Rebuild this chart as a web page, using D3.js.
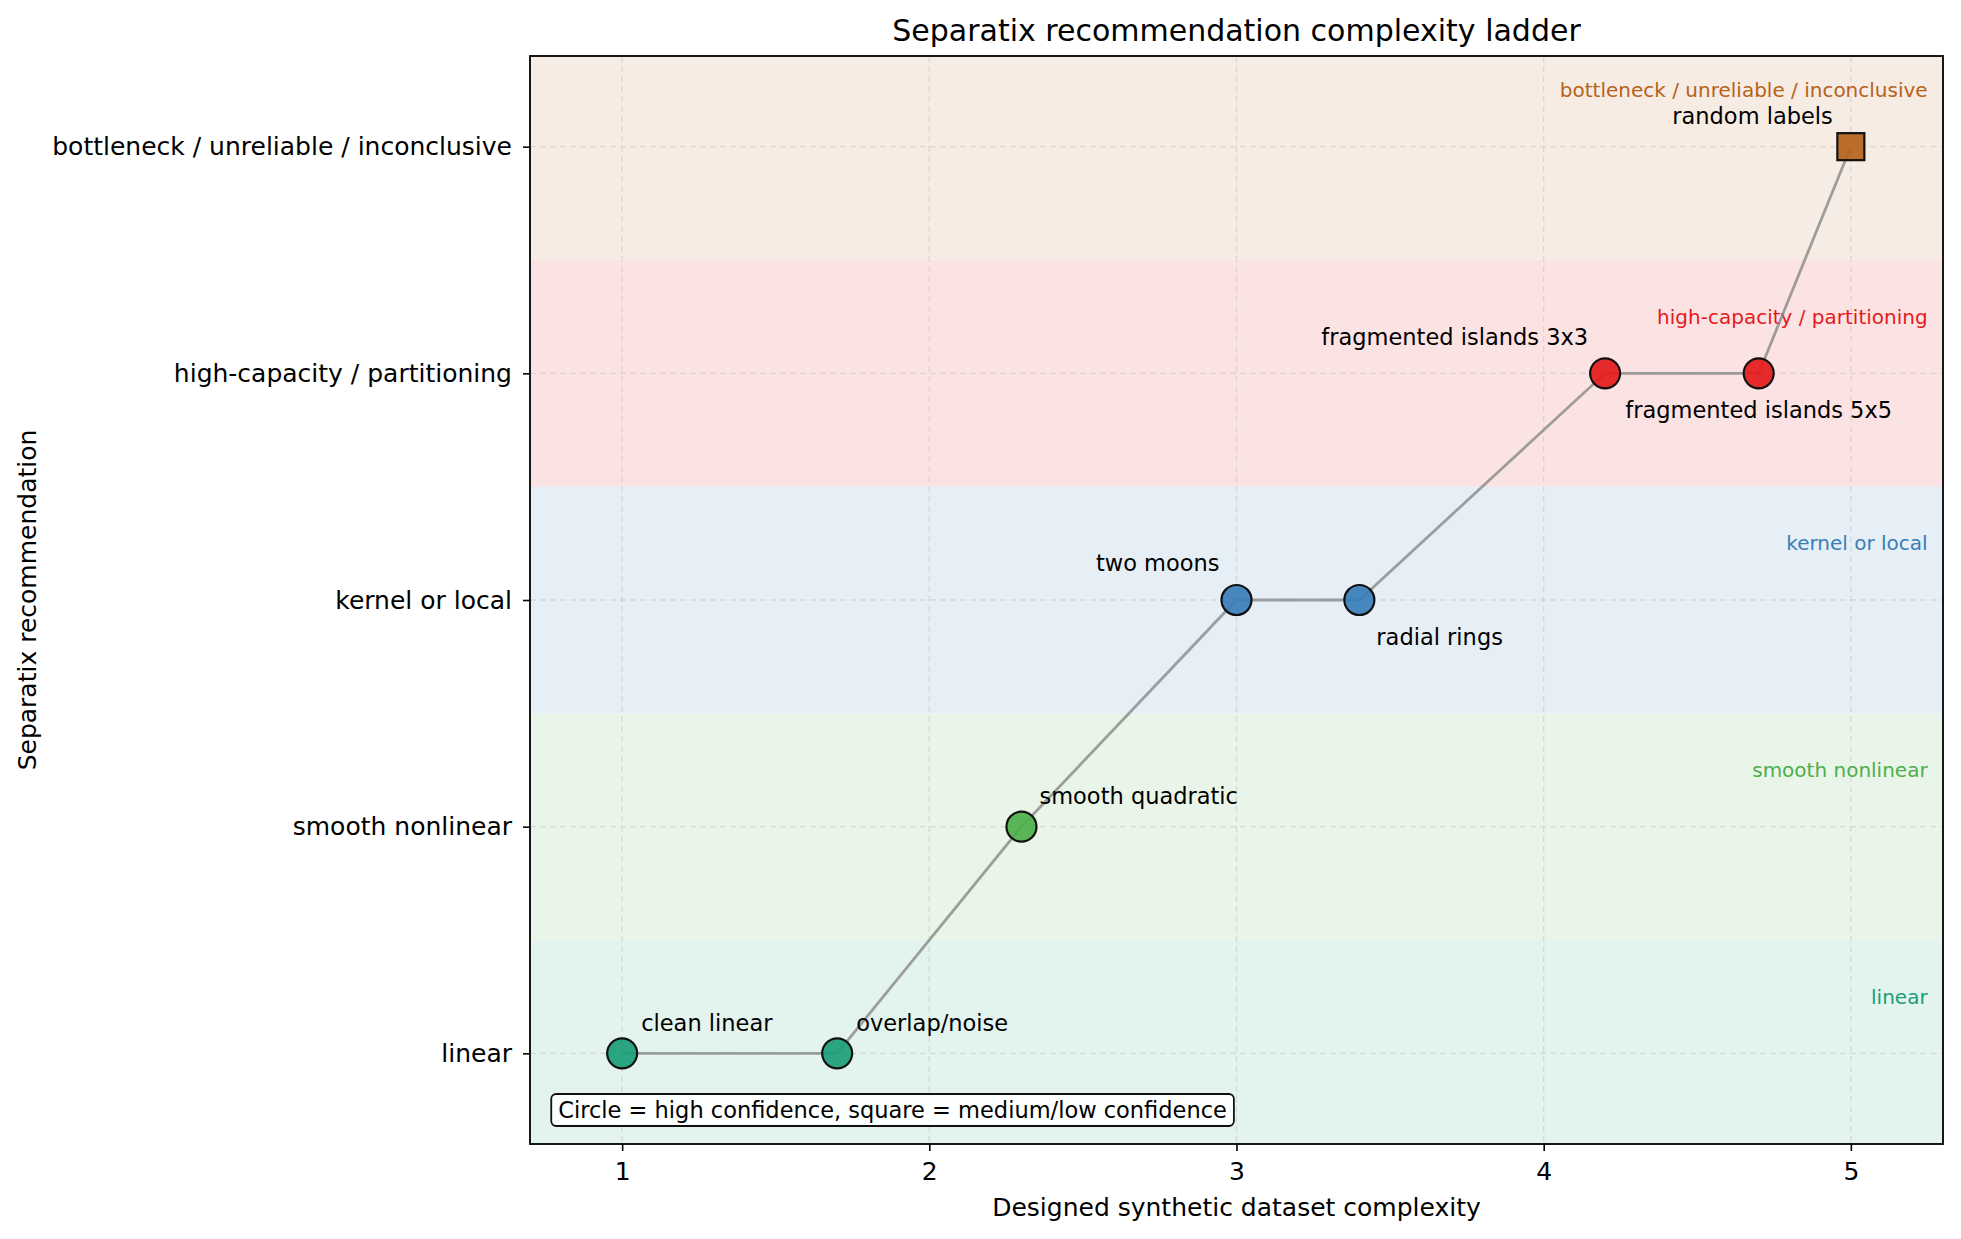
<!DOCTYPE html>
<html lang="en">
<head>
<meta charset="UTF-8">
<title>Separatix recommendation complexity ladder</title>
<script src="https://cdn.jsdelivr.net/npm/d3@7"></script>
<style>
  body { margin: 0; background: #fff; }
  text { font-family: "DejaVu Sans", sans-serif; }
</style>
</head>
<body>
<script>
// recommendation levels (bottom to top)
var levels = ["linear", "smooth nonlinear", "kernel or local", "high-capacity / partitioning", "bottleneck / unreliable / inconclusive"];
var levelColors = ["#1b9e77", "#4daf4a", "#377eb8", "#e41a1c", "#b5621b"];

// datasets
var names = ["clean linear", "overlap/noise", "smooth quadratic", "two moons", "radial rings", "fragmented islands 3x3", "fragmented islands 5x5", "random labels"];
var complexity = [1.0, 1.7, 2.3, 3.0, 3.4, 4.2, 4.7, 5.0];
var recLevel = [0, 0, 1, 2, 2, 3, 3, 4];
var confidence = ["high", "high", "high", "high", "high", "high", "high", "medium/low"];

var xTicks = [1, 2, 3, 4, 5];

var W = 1961, H = 1239;
var margin = {left: 530, right: 18, top: 56, bottom: 95};
var iw = W - margin.left - margin.right, ih = H - margin.top - margin.bottom;

var svg = d3.select("body").append("svg").attr("width", W).attr("height", H);

var x = d3.scaleLinear().domain([0.7, 5.3]).range([0, iw]);
var y = d3.scaleLinear().domain([-0.4, 4.4]).range([ih, 0]);

var g = svg.append("g").attr("transform", "translate(" + margin.left + "," + margin.top + ")");

// background bands
g.selectAll("rect.band").data(levels).enter().append("rect")
  .attr("class", "band")
  .attr("x", 0).attr("width", iw)
  .attr("y", (d, i) => y(Math.min(i + 0.5, 4.4)))
  .attr("height", (d, i) => y(Math.max(i - 0.5, -0.4)) - y(Math.min(i + 0.5, 4.4)))
  .attr("fill", (d, i) => levelColors[i])
  .attr("fill-opacity", 0.12);

// grid
g.selectAll("line.gx").data(xTicks).enter().append("line")
  .attr("x1", d => x(d)).attr("x2", d => x(d)).attr("y1", 0).attr("y2", ih)
  .attr("stroke", "#b0b0b0").attr("stroke-opacity", 0.35).attr("stroke-width", 1.3).attr("stroke-dasharray", "6,4");
g.selectAll("line.gy").data(d3.range(levels.length)).enter().append("line")
  .attr("y1", d => y(d)).attr("y2", d => y(d)).attr("x1", 0).attr("x2", iw)
  .attr("stroke", "#b0b0b0").attr("stroke-opacity", 0.35).attr("stroke-width", 1.3).attr("stroke-dasharray", "6,4");

// band labels
g.selectAll("text.bandlab").data(levels).enter().append("text")
  .attr("x", x(5.25)).attr("y", (d, i) => y(i + 0.25))
  .attr("text-anchor", "end").attr("dominant-baseline", "central")
  .attr("font-size", 20).attr("fill", (d, i) => levelColors[i])
  .text(d => d);

// connecting line
var pts = names.map((n, i) => ({name: n, x: complexity[i], y: recLevel[i], conf: confidence[i]}));
g.append("path").datum(pts)
  .attr("d", d3.line().x(d => x(d.x)).y(d => y(d.y)))
  .attr("fill", "none").attr("stroke", "#888").attr("stroke-opacity", 0.8).attr("stroke-width", 2.8);

// markers
pts.forEach(function(p) {
  var col = levelColors[p.y];
  if (p.conf === "high") {
    g.append("circle").attr("cx", x(p.x)).attr("cy", y(p.y)).attr("r", 15)
      .attr("fill", col).attr("fill-opacity", 0.92).attr("stroke", "#111").attr("stroke-width", 2.2);
  } else {
    g.append("rect").attr("x", x(p.x) - 13.5).attr("y", y(p.y) - 13.5).attr("width", 27).attr("height", 27)
      .attr("fill", col).attr("fill-opacity", 0.92).attr("stroke", "#111").attr("stroke-width", 2.2);
  }
});

// point labels: [dx, dy to text centre, anchor]
var place = {
  "clean linear": [19, -30, "start"],
  "overlap/noise": [19, -30, "start"],
  "smooth quadratic": [18, -31, "start"],
  "two moons": [-17, -37, "end"],
  "radial rings": [17, 37, "start"],
  "fragmented islands 3x3": [-17, -36, "end"],
  "fragmented islands 5x5": [0, 37, "middle"],
  "random labels": [-18, -31, "end"]
};
g.selectAll("text.plab").data(pts).enter().append("text")
  .attr("x", d => x(d.x) + place[d.name][0])
  .attr("y", d => y(d.y) + place[d.name][1])
  .attr("text-anchor", d => place[d.name][2])
  .attr("dominant-baseline", "central")
  .attr("font-size", 22.5).attr("fill", "#000")
  .text(d => d.name);

// note box
var note = g.append("g").attr("transform", "translate(" + (iw * 0.02) + "," + (ih - 34) + ")");
var noteText = note.append("text").attr("x", 0).attr("y", 0)
  .attr("dominant-baseline", "central").attr("font-size", 22.5)
  .text("Circle = high confidence, square = medium/low confidence");
var bb = noteText.node().getBBox();
note.insert("rect", "text")
  .attr("x", bb.x - 7).attr("y", bb.y - 3).attr("width", bb.width + 14).attr("height", bb.height + 6)
  .attr("rx", 5).attr("fill", "#fff").attr("fill-opacity", 0.9).attr("stroke", "#111").attr("stroke-width", 1.8);

// axes
var xAxis = g.append("g").attr("transform", "translate(0," + ih + ")")
  .call(d3.axisBottom(x).tickValues(xTicks).tickFormat(d3.format("d")).tickSize(7).tickPadding(11));
var yAxis = g.append("g")
  .call(d3.axisLeft(y).tickValues(d3.range(levels.length)).tickFormat(i => levels[i]).tickSize(7).tickPadding(11));
[xAxis, yAxis].forEach(function(a) {
  a.select(".domain").remove();
  a.selectAll("line").attr("stroke", "#000").attr("stroke-width", 1.6);
  a.selectAll("text").attr("font-size", 25).attr("fill", "#000").attr("font-family", "DejaVu Sans");
});

// frame
g.append("rect").attr("x", 0).attr("y", 0).attr("width", iw).attr("height", ih)
  .attr("fill", "none").attr("stroke", "#000").attr("stroke-width", 1.8);

// titles
svg.append("text").attr("x", margin.left + iw / 2).attr("y", 41)
  .attr("text-anchor", "middle").attr("font-size", 30).text("Separatix recommendation complexity ladder");
svg.append("text").attr("x", margin.left + iw / 2).attr("y", 1216)
  .attr("text-anchor", "middle").attr("font-size", 25).text("Designed synthetic dataset complexity");
svg.append("text").attr("transform", "translate(36," + (margin.top + ih / 2) + ") rotate(-90)")
  .attr("text-anchor", "middle").attr("font-size", 25).text("Separatix recommendation");
</script>
</body>
</html>
